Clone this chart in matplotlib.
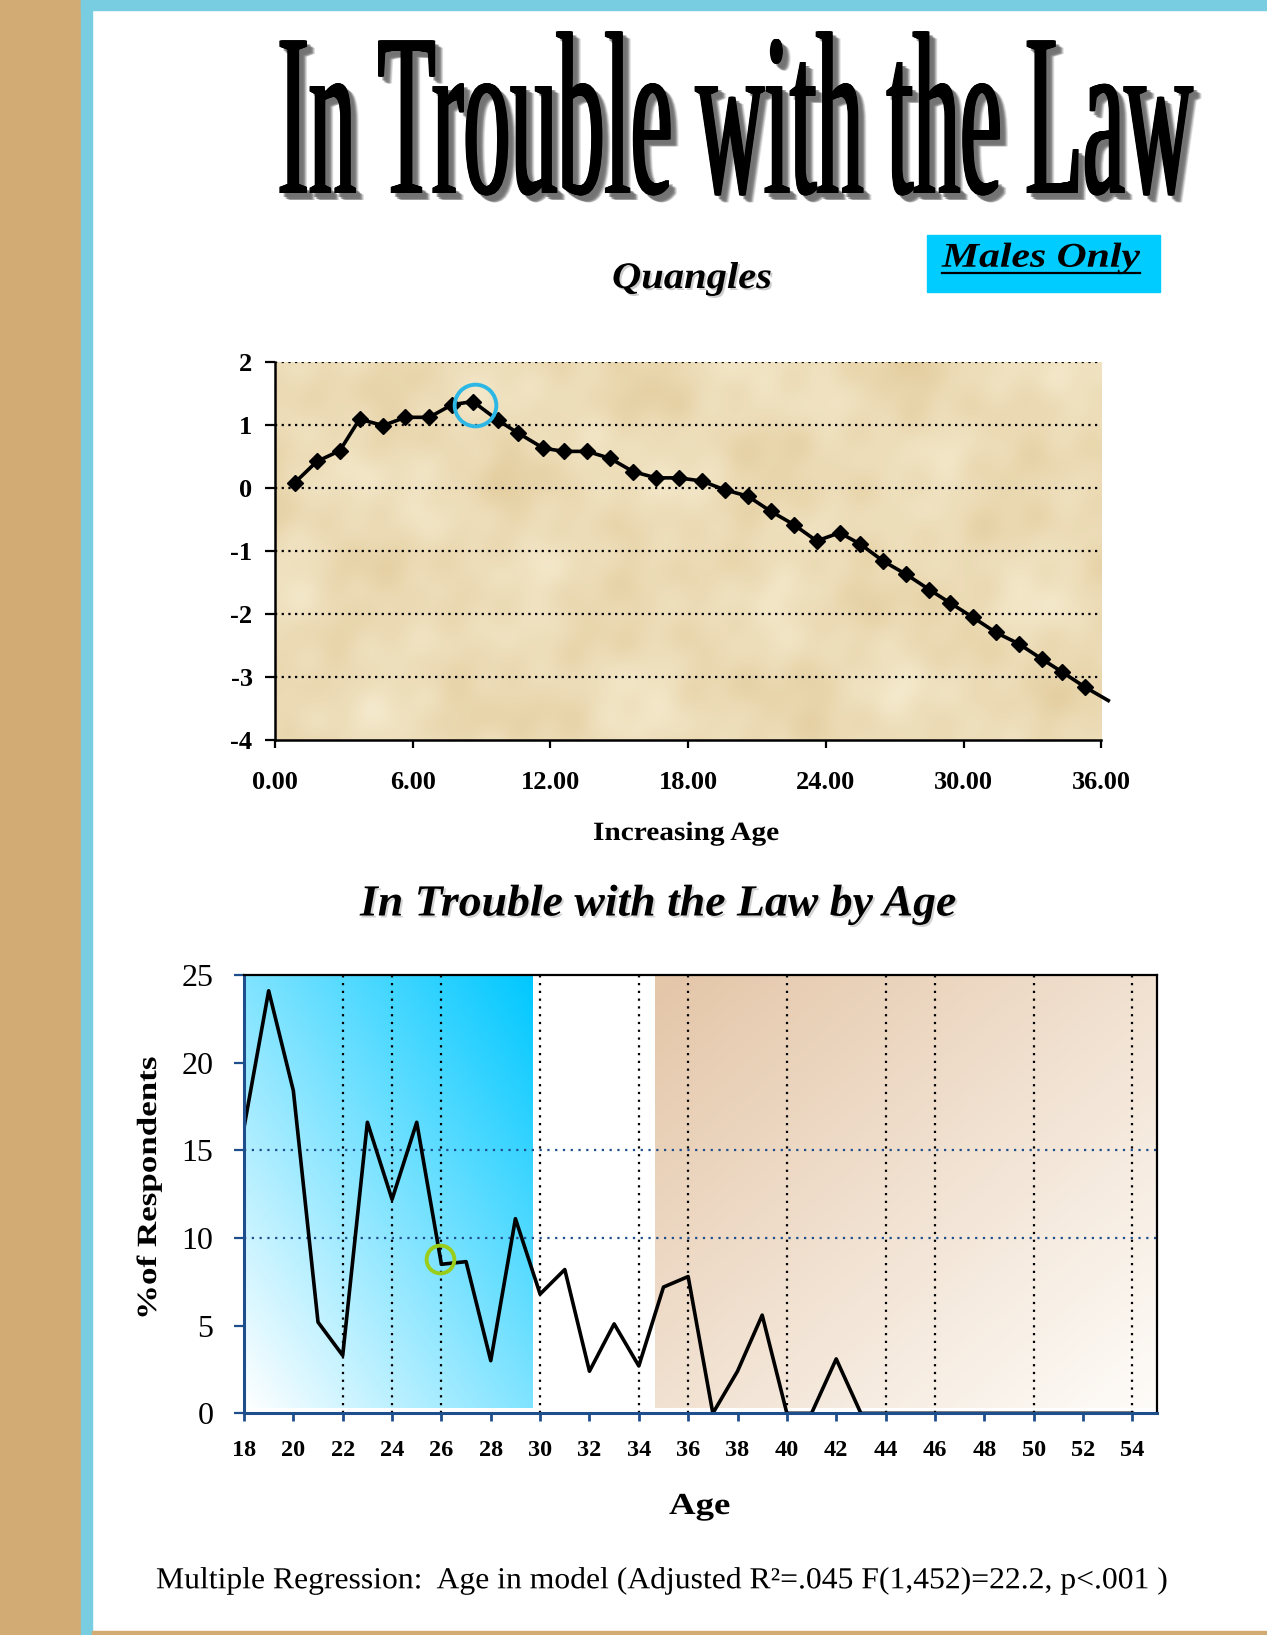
import numpy as np
import matplotlib
matplotlib.use('Agg')
import matplotlib.pyplot as plt
from matplotlib import patheffects
from matplotlib.transforms import Affine2D
from matplotlib.patches import Rectangle
from matplotlib.lines import Line2D

W, H = 1267, 1635
plt.rcParams['font.family'] = ['Liberation Serif', 'DejaVu Serif']

# top panel: quangle scores
q_x = [0.86, 1.83, 2.83, 3.69, 4.72, 5.69, 6.72, 7.72, 8.63, 9.73, 10.6, 11.7,
       12.6, 13.6, 14.6, 15.6, 16.6, 17.6, 18.6, 19.6, 20.6, 21.6, 22.6, 23.6,
       24.6, 25.5, 26.5, 27.5, 28.5, 29.4, 30.4, 31.4, 32.4, 33.4, 34.3, 35.3, 36.3]
q_y = [0.08, 0.42, 0.59, 1.09, 0.99, 1.12, 1.12, 1.32, 1.37, 1.07, 0.87, 0.63,
       0.58, 0.58, 0.47, 0.26, 0.16, 0.16, 0.11, -0.03, -0.13, -0.37, -0.58, -0.84,
       -0.71, -0.89, -1.16, -1.37, -1.61, -1.82, -2.05, -2.29, -2.47, -2.71, -2.92,
       -3.16, -3.37]
q_peak = (8.72, 1.32)
q_xticks = [0, 6, 12, 18, 24, 30, 36]
q_xlabels = ['0.00', '6.00', '12.00', '18.00', '24.00', '30.00', '36.00']
q_yticks = [-4, -3, -2, -1, 0, 1, 2]

# bottom panel: % in trouble with the law by age
ages = list(range(18, 55))
pct = [16.3, 24.1, 18.4, 5.2, 3.3, 16.6, 12.2, 16.6, 8.5, 8.65, 3.0, 11.1,
       6.8, 8.2, 2.4, 5.1, 2.7, 7.2, 7.8, 0, 2.4, 5.6, 0, 0, 3.1, 0,
       0, 0, 0, 0, 0, 0, 0, 0, 0, 0, 0]
age_ticks = list(range(18, 55, 2))
pct_ticks = [0, 5, 10, 15, 20, 25]
age_grid = [22, 24, 26, 30, 34, 36, 40, 44, 46, 50, 54]
pct_grid = [10, 15]
young_band = (18, 29.7)
old_band = (34.65, 55)
band_floor = 0.28
mark_age = (25.93, 8.78)

NAVY = '#1F4E8C'


class Stretch(patheffects.AbstractPathEffect):
    """Draws text glyphs scaled across the text direction (tall, narrow
    lettering), optionally smeared sideways and with a soft offset shadow."""

    def __init__(self, sy=1.0, smear=0.0, shadow=()):
        super().__init__()
        self.sy = sy
        self.smear = smear
        self.shadow = shadow

    def draw_path(self, renderer, gc, tpath, affine, rgbFace=None):
        base = Affine2D().scale(1, self.sy) + affine
        if self.smear > 0:
            offs = np.linspace(0, self.smear, int(self.smear * 2) + 1)
        else:
            offs = [0.0]
        for dx, dy, a in self.shadow:
            for ox in offs:
                renderer.draw_path(gc, tpath, base + Affine2D().translate(ox + dx, dy),
                                   (0.45, 0.45, 0.45, a))
        for ox in offs:
            renderer.draw_path(gc, tpath, base + Affine2D().translate(ox, 0), rgbFace)


def fy(py):
    return 1 - py / H


fig = plt.figure(figsize=(W / 100, H / 100), dpi=100)
fig.patch.set_facecolor('white')

# page frame
fig.patches.append(Rectangle((0, 0), 81 / W, 1, transform=fig.transFigure,
                             color='#D2AA74', zorder=0))
fig.patches.append(Rectangle((81 / W, 0), 11 / W, 1, transform=fig.transFigure,
                             color='#78CDE1', zorder=0))
fig.patches.append(Rectangle((81 / W, fy(10)), 1, 10 / H, transform=fig.transFigure,
                             color='#78CDE1', zorder=0))
fig.patches.append(Rectangle((92 / W, 0), 1, 4 / H, transform=fig.transFigure,
                             color='#D2AA74', zorder=0))

# ---------- top panel ----------
ax1 = fig.add_axes([274.8 / W, fy(740.3), 826.6 / W, 378.5 / H])
ax1.set_xlim(0, 36)
ax1.set_ylim(-4, 2)

# parchment background
gx, gy = np.meshgrid(np.linspace(0, 2.2, 440), np.linspace(0, 1, 200))
mott = (np.sin(9 * gx + 2.1) * np.sin(11 * gy + 0.4)
        + 0.8 * np.sin(13 * gx + 7 * gy + 1.1) * np.sin(6 * gx - 12 * gy)
        + 0.5 * np.sin(23 * gx - 19 * gy + 0.3) * np.sin(17 * gx + 21 * gy + 2.0)
        + 0.35 * np.sin(41 * gx + 5 * gy) * np.sin(37 * gy - 9 * gx + 0.8))
mott = (mott - mott.min()) / (mott.max() - mott.min())
light = np.array([244, 233, 204]) / 255
dark = np.array([228, 206, 160]) / 255
tex = light + (dark - light) * mott[..., None]
ax1.imshow(tex, extent=(0, 36, -4, 2), aspect='auto', origin='lower',
           interpolation='bilinear', zorder=0)

for yv in q_yticks[1:]:
    ax1.axhline(yv, color='black', lw=1.6, ls=(0, (1, 2)), zorder=1)

ax1.plot(q_x, q_y, color='black', lw=2.6, marker='D', ms=8.5,
         markevery=list(range(len(q_x) - 1)), clip_on=False, zorder=3)
ax1.plot(*q_peak, 'o', ms=30, mfc='none', mec='#2DB7E5', mew=2.8, zorder=4)

ax1.set_xticks(q_xticks, q_xlabels, fontsize=19, fontweight='bold')
ax1.set_yticks(q_yticks, [str(v) for v in q_yticks], fontsize=19, fontweight='bold')
ax1.tick_params(axis='x', direction='out', length=6, width=1.6, pad=16)
ax1.tick_params(axis='y', direction='out', length=7, width=1.6, pad=9)
for s in ['top', 'right']:
    ax1.spines[s].set_visible(False)
for s in ['left', 'bottom']:
    ax1.spines[s].set_linewidth(1.8)
    ax1.spines[s].set_zorder(5)

# ---------- bottom panel ----------
ax2 = fig.add_axes([244 / W, fy(1413.3), 913 / W, 438.3 / H])
ax2.set_xlim(18, 55)
ax2.set_ylim(0, 25)

u, v = np.meshgrid(np.linspace(0, 1, 200), np.linspace(0, 1, 200))
t_blue = ((u + v) / 2)[..., None]
blue = np.array([1, 1, 1]) * (1 - t_blue) + np.array([0, 200, 255]) / 255 * t_blue
ax2.imshow(blue, extent=(young_band[0], young_band[1], band_floor, 25), aspect='auto',
           origin='lower', interpolation='bilinear', zorder=0)
t_tan = (((1 - u) + v) / 2)[..., None]
tan = (np.array([254, 252, 249]) / 255 * (1 - t_tan)
       + np.array([228, 198, 168]) / 255 * t_tan)
ax2.imshow(tan, extent=(old_band[0], old_band[1], band_floor, 25), aspect='auto',
           origin='lower', interpolation='bilinear', zorder=0)

for a in age_grid:
    ax2.axvline(a, color='black', lw=1.6, ls=(0, (1, 2.5)), zorder=1)
for p in pct_grid:
    ax2.axhline(p, color=NAVY, lw=1.6, ls=(0, (1, 2.5)), zorder=1)

ax2.plot(ages, pct, color='black', lw=2.6, zorder=4)
ax2.plot(*mark_age, 'o', ms=20, mfc='none', mec='#9ACD1A', mew=2.8, zorder=5)

ax2.set_xticks(age_ticks, [str(a) for a in age_ticks], fontsize=17.5, fontweight='bold')
ax2.set_yticks(pct_ticks, [str(p) for p in pct_ticks], fontsize=23)
ax2.tick_params(axis='x', direction='out', length=6, width=2, color=NAVY, pad=13.5)
ax2.tick_params(axis='y', direction='out', length=7, width=1.6, color=NAVY, pad=15)
for s in ['top', 'right']:
    ax2.spines[s].set_linewidth(1.6)
    ax2.spines[s].set_color('black')
for s in ['left', 'bottom']:
    ax2.spines[s].set_linewidth(2.2)
    ax2.spines[s].set_color(NAVY)
for s in ax2.spines.values():
    s.set_zorder(6)

# ---------- text ----------
# each entry: text, effect, run length in px, wanted size, smear, rotated
fitted = []


def tall_text(s, x, y, run, size, weight='normal', style='normal',
              smear=0.0, shadow=(), rotated=False):
    eff = Stretch(smear=smear, shadow=shadow)
    t = fig.text(x / W, fy(y), s, fontsize=size, fontweight=weight, fontstyle=style,
                 rotation=90 if rotated else 0, rotation_mode='anchor',
                 ha='left', va='baseline', path_effects=[eff])
    fitted.append((t, eff, run, size, smear, rotated))
    return t


tall_text('In Trouble with the Law', 276, 193, 918, 167.5, smear=3,
          shadow=((4, -4, 0.3), (6, -6, 0.25), (8, -7, 0.15)))
tall_text('Quangles', 612, 288, 160, 27, weight='bold', style='italic',
          shadow=((2, -2, 0.35),))

fig.patches.append(Rectangle((927.3 / W, fy(291.7)), (1160 - 927.3) / W, 56.7 / H,
                             transform=fig.transFigure, color='#00CCFF', zorder=1))
tall_text('Males Only', 942, 266.7, 198, 25, weight='bold', style='italic')
fig.add_artist(Line2D([942 / W, 1140 / W], [fy(273.3)] * 2, transform=fig.transFigure,
                      color='black', lw=1.6))

tall_text('Increasing Age', 593, 840, 186, 19, weight='bold')
tall_text('In Trouble with the Law by Age', 360, 915.5, 597, 32, weight='bold',
          style='italic', shadow=((2, -2, 0.3),))
tall_text('%of Respondents', 156, 1320, 263, 20, weight='bold', rotated=True)
tall_text('Age', 669, 1514, 61, 22, weight='bold')
tall_text('Multiple Regression:  Age in model (Adjusted R\u00b2=.045 F(1,452)=22.2, p<.001 )',
          156, 1588.3, 1009, 22)

# fit each run length through the font size, keep the glyph height with sy
fig.canvas.draw()
renderer = fig.canvas.get_renderer()
for t, eff, run, size, smear, rotated in fitted:
    bb = t.get_window_extent(renderer)
    natural = bb.height if rotated else bb.width
    new_size = t.get_fontsize() * (run - smear) / natural
    t.set_fontsize(new_size)
    eff.sy = size / new_size

fig.savefig('out.png', dpi=100)
